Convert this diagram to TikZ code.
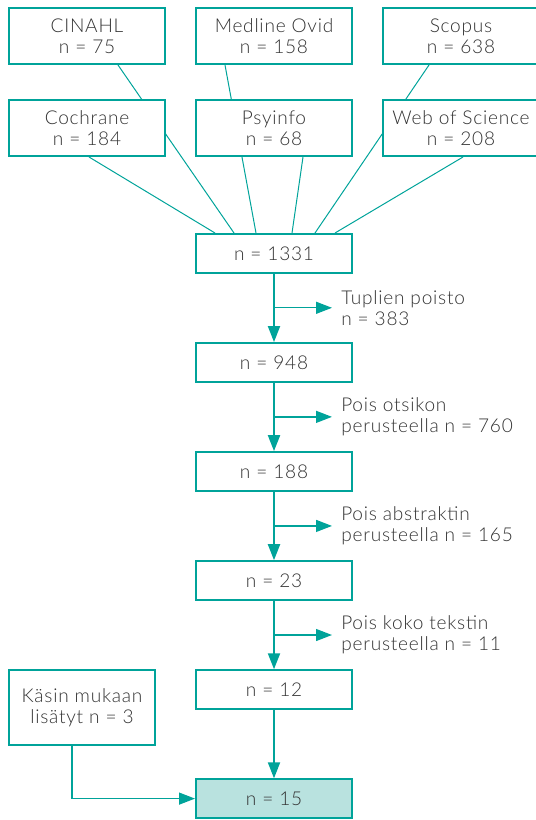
\documentclass[tikz,border=0pt]{standalone}
\usepackage{fontspec}
\setmainfont{Lato}[UprightFont={* Light}, LetterSpace=4]
\usepackage{xcolor}
\usetikzlibrary{positioning,arrows.meta,calc,backgrounds}

\definecolor{tealline}{HTML}{00A39A}
\definecolor{tealfill}{HTML}{B9E2DF}
\definecolor{txtgray}{HTML}{333333}

\begin{document}
\begin{tikzpicture}[
    font=\fontsize{14.3}{15.75}\selectfont,
    text=txtgray,
    node distance=25.5pt and 21.75pt,
    dbbox/.style={draw=tealline, line width=1.5pt, fill=white, align=center, minimum width=117pt, minimum height=42pt, inner sep=0pt},
    stage/.style={draw=tealline, line width=1.5pt, fill=white, align=center, minimum width=117pt, minimum height=28.9pt, inner sep=0pt},
    result/.style={stage, fill=tealfill},
    note/.style={align=left, inner xsep=6.75pt, inner ysep=0pt, anchor=west},
    feed/.style={draw=tealline, line width=0.75pt},
    flow/.style={draw=tealline, line width=1.5pt, -{Triangle[length=12pt, width=9pt]}},
    drop/.style={draw=tealline, line width=1pt, -{Triangle[length=12pt, width=9pt]}}
]
\useasboundingbox (0,0) rectangle (401.25pt,-615pt);

% databases
\node[dbbox, anchor=north west] (cinahl) at (6pt,-5.25pt) {CINAHL\\n = 75};
\node[dbbox, right=of cinahl] (medline) {Medline Ovid\\n = 158};
\node[dbbox, right=of medline] (scopus) {Scopus\\n = 638};
\node[dbbox, below=of cinahl] (cochrane) {Cochrane\\n = 184};
\node[dbbox, below=of medline] (psyinfo) {Psyinfo\\n = 68};
\node[dbbox, below=of scopus] (wos) {Web of Science\\n = 208};

% screening chain
\node[stage, below=57pt of psyinfo] (n1331) {n = 1331};
\node[stage, below=51.4pt of n1331] (n948) {n = 948};
\node[stage, below=51.4pt of n948] (n188) {n = 188};
\node[stage, below=51.4pt of n188] (n23) {n = 23};
\node[stage, below=51.4pt of n23] (n12) {n = 12};
\node[result, below=51.4pt of n12] (n15) {n = 15};
\node[stage, anchor=north west, minimum width=109.5pt, minimum height=56.25pt] (manual) at (cochrane.west |- n12.north) {Käsin mukaan\\lisätyt n = 3};

% exclusions
\coordinate (c1) at ($(n1331.south)!0.5!(n948.north)$);
\coordinate (c2) at ($(n948.south)!0.5!(n188.north)$);
\coordinate (c3) at ($(n188.south)!0.5!(n23.north)$);
\coordinate (c4) at ($(n23.south)!0.5!(n12.north)$);
\node[note] (ex1) at ([xshift=43.5pt]c1) {Tuplien poisto\\n = 383};
\node[note] (ex2) at ([xshift=43.5pt]c2) {Pois otsikon\\perusteella n = 760};
\node[note] (ex3) at ([xshift=43.5pt]c3) {Pois abstraktin\\perusteella n = 165};
\node[note] (ex4) at ([xshift=43.5pt]c4) {Pois koko tekstin\\perusteella n = 11};

\begin{scope}[on background layer]
\draw[feed] ([xshift=1.5pt]cochrane.south) -- ([xshift=-44.25pt]n1331.north);
\draw[feed] ([xshift=23.25pt]cinahl.south) -- ([xshift=-30pt]n1331.north);
\draw[feed] ([xshift=-36.75pt]medline.south) -- ([xshift=-13.5pt]n1331.north);
\draw[feed] ([xshift=21.75pt]psyinfo.south) -- ([xshift=13.5pt]n1331.north);
\draw[feed] ([xshift=-24pt]scopus.south) -- ([xshift=30.75pt]n1331.north);
\draw[feed] ([xshift=1.5pt]wos.south) -- ([xshift=45.75pt]n1331.north);
\end{scope}

\draw[flow] (n1331) -- (n948);
\draw[flow] (n948) -- (n188);
\draw[flow] (n188) -- (n23);
\draw[flow] (n23) -- (n12);
\draw[flow] (n12) -- (n15);
\draw[drop] (c1) -- (ex1.west);
\draw[drop] (c2) -- (ex2.west);
\draw[drop] (c3) -- (ex3.west);
\draw[drop] (c4) -- (ex4.west);
\draw[drop] ([xshift=-7.5pt]manual.south) |- (n15.west);
\end{tikzpicture}
\end{document}
